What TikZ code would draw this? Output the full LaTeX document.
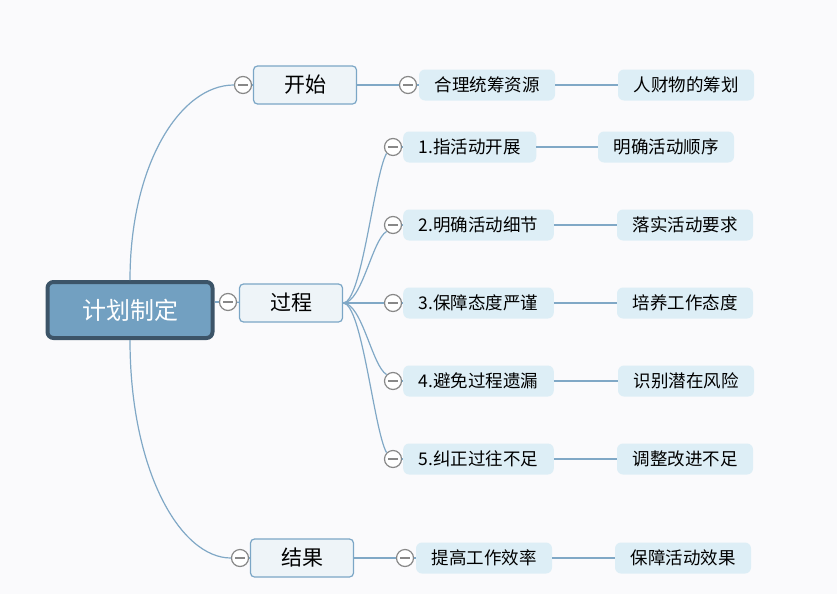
\documentclass[tikz,border=0pt]{standalone}
\usepackage{fontspec}
\setmainfont{Noto Sans CJK SC}
\usepackage{tikz}
\usetikzlibrary{shapes, arrows, calc}
\definecolor{mapbg}{RGB}{250, 250, 252}
\definecolor{rootfill}{RGB}{114, 160, 193}
\definecolor{rootline}{RGB}{60, 84, 104}
\definecolor{topicfill}{RGB}{238, 244, 248}
\definecolor{topicline}{RGB}{123, 166, 198}
\definecolor{leaffill}{RGB}{221, 238, 246}
\definecolor{linkc}{RGB}{128, 168, 198}
\definecolor{foldc}{RGB}{136, 136, 136}

\begin{document}
\begin{tikzpicture}[
    x=1pt, y=-1pt,
    root/.style={rectangle, rounded corners=6pt, draw=rootline, line width=4pt, fill=rootfill,
        minimum width=165pt, minimum height=56pt, text=white, font=\fontsize{24}{24}\selectfont},
    topic/.style={rectangle, rounded corners=4pt, draw=topicline, line width=1.2pt, fill=topicfill,
        minimum width=103pt, minimum height=38pt, font=\fontsize{21}{21}\selectfont},
    leaf/.style={rectangle, rounded corners=6pt, fill=leaffill, inner xsep=15.5pt, inner ysep=0pt,
        minimum height=31pt, text height=1.2em, text depth=0em, font=\fontsize{17.5}{17.5}\selectfont},
    fold/.style={circle, draw=foldc, line width=1.2pt, fill=white, minimum size=17pt, inner sep=0pt,
        path picture={\draw[foldc, line width=1.2pt] ([xshift=3.5pt]path picture bounding box.west) -- ([xshift=-3.5pt]path picture bounding box.east);}},
    link/.style={draw=linkc, line width=1.2pt}
]
\useasboundingbox[fill=mapbg] (0,0) rectangle (837,594);

\node[root] (plan) at (130,310) {计划制定};

\node[fold] (fstart) at (243,85) {};
\node[topic] (start) at (305,85) {开始};
\node[fold] (fproc) at (228,302) {};
\node[topic] (proc) at (291,303) {过程};
\node[fold] (fres) at (240,558) {};
\node[topic] (res) at (302,558) {结果};

\node[fold] (gstart) at (408,85) {};
\node[leaf] (plan1) at (487,85) {合理统筹资源};
\node[leaf] (plan1b) at (686,85) {人财物的筹划};

\node[fold] (step1f) at (393,147) {};
\node[leaf, anchor=west] (step1) at (403,147) {1.指活动开展};
\node[leaf] (step1b) at (666,147) {明确活动顺序};
\node[fold] (step2f) at (393,225) {};
\node[leaf, anchor=west] (step2) at (403,225) {2.明确活动细节};
\node[leaf] (step2b) at (685,225) {落实活动要求};
\node[fold] (step3f) at (393,303) {};
\node[leaf, anchor=west] (step3) at (403,303) {3.保障态度严谨};
\node[leaf] (step3b) at (685,303) {培养工作态度};
\node[fold] (step4f) at (393,381) {};
\node[leaf, anchor=west] (step4) at (403,381) {4.避免过程遗漏};
\node[leaf] (step4b) at (686,381) {识别潜在风险};
\node[fold] (step5f) at (393,459) {};
\node[leaf, anchor=west] (step5) at (403,459) {5.纠正过往不足};
\node[leaf] (step5b) at (685,459) {调整改进不足};

\node[fold] (gres) at (405,558) {};
\node[leaf] (res1) at (484,558) {提高工作效率};
\node[leaf] (res1b) at (683,558) {保障活动效果};

% root to main topics
\draw[link] (plan.north) .. controls (130,165) and (180,85) .. (fstart.west);
\draw[link] (fproc.west -| plan.east) -- (fproc.west);
\draw[link] (plan.south) .. controls (130,470) and (180,558) .. (fres.west);
\draw[link] (fstart) -- (start);
\draw[link] (fproc) -- (proc);
\draw[link] (fres) -- (res);

% start branch
\draw[link] (start.east) -- (gstart.west);
\draw[link] (gstart) -- (plan1);
\draw[link] (plan1.east) -- (plan1b.west);

% process branch
\draw[link] (proc.east) .. controls (362,303) and (374,175) .. (step1f.south west);
\draw[link] (proc.east) .. controls (362,303) and (372,240) .. (step2f.south west);
\draw[link] (proc.east) -- (step3f.west);
\draw[link] (proc.east) .. controls (362,303) and (372,366) .. (step4f.north west);
\draw[link] (proc.east) .. controls (362,303) and (374,431) .. (step5f.north west);
\draw[link] (step1f) -- (step1);
\draw[link] (step2f) -- (step2);
\draw[link] (step3f) -- (step3);
\draw[link] (step4f) -- (step4);
\draw[link] (step5f) -- (step5);
\draw[link] (step1.east) -- (step1b.west);
\draw[link] (step2.east) -- (step2b.west);
\draw[link] (step3.east) -- (step3b.west);
\draw[link] (step4.east) -- (step4b.west);
\draw[link] (step5.east) -- (step5b.west);

% result branch
\draw[link] (res.east) -- (gres.west);
\draw[link] (gres) -- (res1);
\draw[link] (res1.east) -- (res1b.west);

\end{tikzpicture}
\end{document}
